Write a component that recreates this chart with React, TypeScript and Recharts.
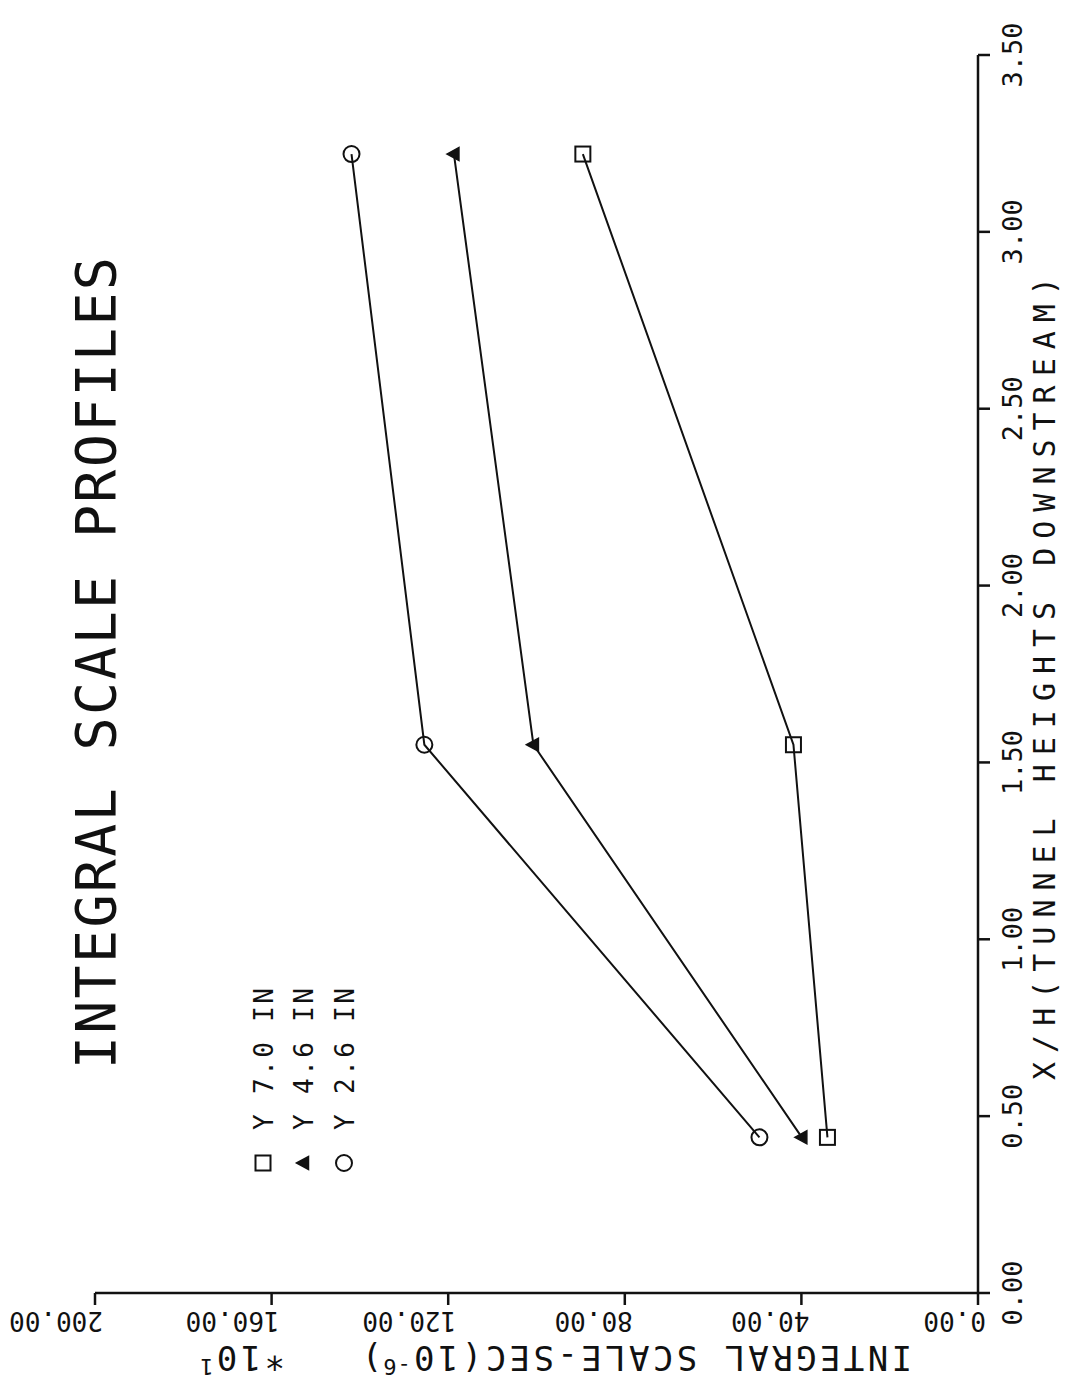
import { LineChart, Line, XAxis, YAxis, Legend, Customized } from "recharts";

// values (X/H stations, integral scale x10 in 1e-6 s)
const xOverH = [0.44, 1.55, 3.22];
const y70 = [34.1, 41.8, 89.5];
const y46 = [39.9, 100.7, 118.7];
const y26 = [49.5, 125.4, 141.9];
const seriesKeys = ["y70", "y46", "y26"];
const seriesNames = ["Y 7.0 IN", "Y 4.6 IN", "Y 2.6 IN"];
const xTicks = [0, 0.5, 1, 1.5, 2, 2.5, 3, 3.5];
const yTicks = [0, 40, 80, 120, 160, 200];
const title = "INTEGRAL SCALE PROFILES";
const xLabel = "X/H(TUNNEL HEIGHTS DOWNSTREAM)";

const rows = xOverH.map((xh, i) => ({ xh, y70: y70[i], y46: y46[i], y26: y26[i] }));

// the plot is drawn upright and then turned a quarter turn, like the scanned page
const W = 1389;
const H = 1066;
const PLOT_BOTTOM = 978;
const FONT = '"DejaVu Sans Mono", "Liberation Mono", monospace';
const INK = "#111";

function Square({ cx, cy }: any) {
  return <rect x={cx - 7.5} y={cy - 7.5} width={15} height={15} fill="none" stroke={INK} strokeWidth={2} />;
}
function Triangle({ cx, cy }: any) {
  return (
    <path
      d={`M${cx},${cy - 7} L${cx + 6.5},${cy + 5} L${cx - 6.5},${cy + 5} Z`}
      fill={INK}
      stroke={INK}
      strokeWidth={1.5}
    />
  );
}
function Circle({ cx, cy }: any) {
  return <circle cx={cx} cy={cy} r={8} fill="none" stroke={INK} strokeWidth={2} />;
}
const markers = [Square, Triangle, Circle];

function XTick({ x, payload }: any) {
  return (
    <text x={x} y={PLOT_BOTTOM + 44} textAnchor="middle" fontFamily={FONT} fontSize={27} fill={INK}>
      {Number(payload.value).toFixed(2)}
    </text>
  );
}

function YTick({ y, payload }: any) {
  const bx = 77;
  const by = y + 8;
  return (
    <text
      x={bx}
      y={by}
      transform={`rotate(-90 ${bx} ${by})`}
      textAnchor="start"
      fontFamily={FONT}
      fontSize={26}
      fill={INK}
    >
      {Number(payload.value).toFixed(2)}
    </text>
  );
}

function Texts() {
  return (
    <g fontFamily={FONT} fill={INK}>
      <text x={727} y={115} textAnchor="middle" fontSize={55} letterSpacing={2.3}>
        {title}
      </text>
      <text x={715} y={1055} textAnchor="middle" fontSize={30} letterSpacing={9}>
        {xLabel}
      </text>
      <text x={43} y={912} transform="rotate(-90 43 912)" fontSize={34} letterSpacing={3.4}>
        INTEGRAL SCALE-SEC(10
        <tspan dy={-13} fontSize={22} letterSpacing={1}>
          -6
        </tspan>
        <tspan dy={13}>)</tspan>
      </text>
      <text x={43} y={285} transform="rotate(-90 43 285)" fontSize={34} letterSpacing={3.4}>
        *10
        <tspan dy={-13} fontSize={22}>
          1
        </tspan>
      </text>
    </g>
  );
}

function LegendBox() {
  return (
    <svg width={240} height={130}>
      {seriesNames.map((name, i) => {
        const Mark = markers[i];
        const cy = 25 + i * 40.5;
        return (
          <g key={name}>
            <Mark cx={26} cy={cy} />
            <text x={59} y={cy + 9.5} fontFamily={FONT} fontSize={26} letterSpacing={2.4} fill={INK}>
              {name}
            </text>
          </g>
        );
      })}
    </svg>
  );
}

export default function App() {
  return (
    <div style={{ position: "absolute", left: 0, top: 0, width: 1066, height: 1389, overflow: "hidden", background: "#fff" }}>
      <div
        style={{
          position: "absolute",
          left: 0,
          top: 0,
          width: W,
          height: H,
          transformOrigin: "0 0",
          transform: `translate(0px, ${W}px) rotate(-90deg)`,
        }}
      >
        <LineChart width={W} height={H} data={rows} margin={{ top: 95, right: 55, left: 0, bottom: 0 }}>
          <XAxis
            type="number"
            dataKey="xh"
            domain={[0, 3.5]}
            ticks={xTicks}
            interval={0}
            height={88}
            tickSize={12}
            axisLine={{ stroke: INK, strokeWidth: 2.5 }}
            tickLine={{ stroke: INK, strokeWidth: 2.5 }}
            tick={<XTick />}
          />
          <YAxis
            type="number"
            domain={[0, 200]}
            ticks={yTicks}
            interval={0}
            width={96}
            tickSize={12}
            axisLine={{ stroke: INK, strokeWidth: 2.5 }}
            tickLine={{ stroke: INK, strokeWidth: 2.5 }}
            tick={<YTick />}
          />
          {seriesKeys.map((key, i) => {
            const Mark = markers[i];
            return (
              <Line
                key={key}
                type="linear"
                dataKey={key}
                name={seriesNames[i]}
                stroke={INK}
                strokeWidth={2}
                isAnimationActive={false}
                activeDot={false}
                dot={(p: any) => <Mark key={`${key}-${p.index}`} cx={p.cx} cy={p.cy} />}
              />
            );
          })}
          <Legend
            layout="vertical"
            align="center"
            verticalAlign="middle"
            wrapperStyle={{ left: 200, top: 238, width: 240, height: 130 }}
            content={<LegendBox />}
          />
          <Customized component={<Texts />} />
        </LineChart>
      </div>
    </div>
  );
}
